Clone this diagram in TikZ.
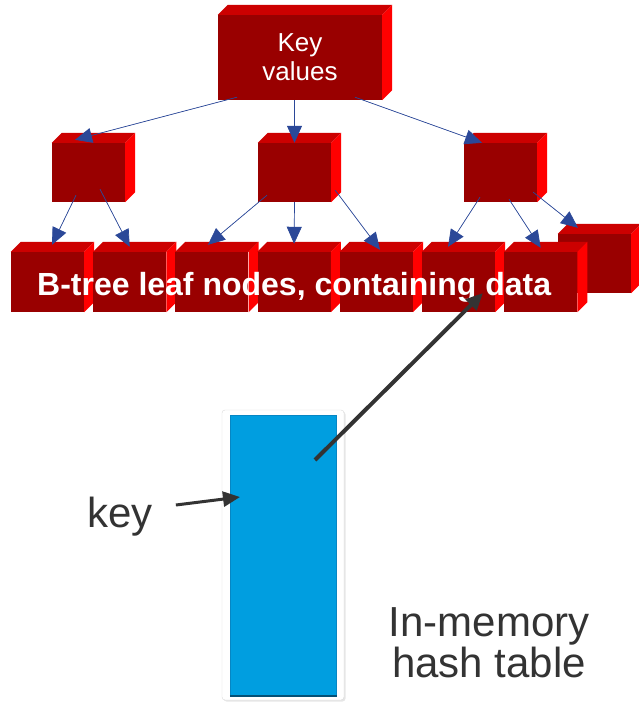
\documentclass[tikz,border=0pt]{standalone}
\usepackage{fontspec}
\setmainfont{Liberation Sans}
\usepackage{tikz}
\usetikzlibrary{arrows.meta, shadows}
\definecolor{front1}{RGB}{153,0,0}
\definecolor{top1}{RGB}{204,0,0}
\definecolor{side1}{RGB}{255,0,0}
\definecolor{arrow1}{RGB}{43,72,152}
\definecolor{hash1}{RGB}{0,158,224}
\definecolor{hashedge1}{RGB}{6,134,196}
\definecolor{ink1}{RGB}{51,51,51}
% box with top and right faces
\newcommand{\cube}[4][]{%
  \node[cubefront,#1,name=#2] at(#3) {#4};
  \fill[top1] (#2.north west) -- ++(10pt,10pt) -- ([shift={(10pt,10pt)}]#2.north east) -- (#2.north east) -- cycle;
  \fill[side1] (#2.north east) -- ++(10pt,10pt) -- ([shift={(10pt,10pt)}]#2.south east) -- (#2.south east) -- cycle;
}

\begin{document}
\begin{tikzpicture}[x=1pt, y=-1pt,
    cubefront/.style={fill=front1, inner sep=0pt, minimum width=73pt, minimum height=60pt, text=white},
    rootbox/.style={minimum width=164pt, minimum height=85pt, align=center, font=\fontsize{26}{29}\selectfont},
    leaftext/.style={text=white, inner sep=0pt, font=\fontsize{32}{36}\selectfont\bfseries},
    treearrow/.style={-{Triangle[length=17pt,width=15pt]}, line width=0.7pt, draw=arrow1, fill=arrow1},
    ptrarrow/.style={-{Triangle[length=17pt,width=15pt]}, line width=4pt, draw=ink1, fill=ink1},
    hashframe/.style={draw=black!15, fill=white, rounded corners=3pt, minimum width=122pt, minimum height=290pt,
      drop shadow={opacity=0.2, shadow xshift=1.5pt, shadow yshift=-1.5pt}},
    hashbox/.style={draw=hashedge1, fill=hash1, line width=1.5pt, minimum width=106pt, minimum height=281pt},
    labeltext/.style={text=ink1, inner sep=0pt, align=center, font=\fontsize{42}{41}\selectfont}
]
        \useasboundingbox (0,0) rectangle (638,703);

        % hash table
        \node[hashframe, name=frame] at(283,555) {};
        \node[hashbox, name=hash] at(283.5,556) {};
        \draw[hashedge1!60!black, line width=2pt] ([yshift=1.5pt]hash.south west) -- ([yshift=1.5pt]hash.south east);

        % tree
        \cube[rootbox]{root}{300,57.5}{Key\\values}
        \cube[minimum height=59pt]{midL}{88.5,172.5}{}
        \cube[minimum height=59pt]{midM}{294.5,172.5}{}
        \cube[minimum height=59pt]{midR}{500.5,172.5}{}

        \cube[minimum height=59pt]{leaf8}{594.5,263.5}{}
        \foreach \i [evaluate=\i as \x using 47.5+82.2*(\i-1)] in {1,...,7}
          {\cube{leaf\i}{\x,282}{}}

        \node[leaftext, anchor=base west, name=caption] at(37,295) {B-tree leaf nodes, containing data};

        \draw[treearrow] ([shift={(-63pt,3pt)}]root.south) -- ([shift={(-13.5pt,3pt)}]midL.north);
        \draw[treearrow] (root.south -| midM.north) -- (midM.north);
        \draw[treearrow] ([shift={(55pt,3pt)}]root.south) -- ([shift={(-18.5pt,0pt)}]midR.north);

        \draw[treearrow] ([shift={(-12.5pt,7pt)}]midL.south) -- ([shift={(4.5pt,7pt)}]leaf1.north);
        \draw[treearrow] ([shift={(11.5pt,13pt)}]midL.south) -- ([shift={(0pt,5pt)}]leaf2.north);
        \draw[treearrow] ([shift={(-27.5pt,7pt)}]midM.south) -- ([shift={(-4pt,7pt)}]leaf3.north);
        \draw[treearrow] (midM.south) -- ([yshift=8pt]leaf4.north);
        \draw[treearrow] ([shift={(4pt,12pt)}]midM.south east) -- ([shift={(3.7pt,2pt)}]leaf5.north);
        \draw[treearrow] ([shift={(-20.5pt,5pt)}]midR.south) -- ([shift={(-10.5pt,5pt)}]leaf6.north);
        \draw[treearrow] ([shift={(8.5pt,3pt)}]midR.south) -- ([shift={(0pt,4pt)}]leaf7.north);
        \draw[treearrow] ([shift={(-4pt,10pt)}]midR.south east) -- ([shift={(-16.5pt,6pt)}]leaf8.north);

        % pointers
        \coordinate (slotin) at(240,497);
        \coordinate (slotout) at(315,460);
        \node[labeltext, name=key] at(120,517) {key};
        \node[labeltext, name=memlabel] at(489,643) {In-memory\\hash table};

        \draw[ptrarrow, line width=3pt] ([shift={(23pt,12pt)}]key.east) -- (slotin);
        \draw[ptrarrow] (slotout) -- ([shift={(24.5pt,-11pt)}]leaf6.center);
\end{tikzpicture}
\end{document}
